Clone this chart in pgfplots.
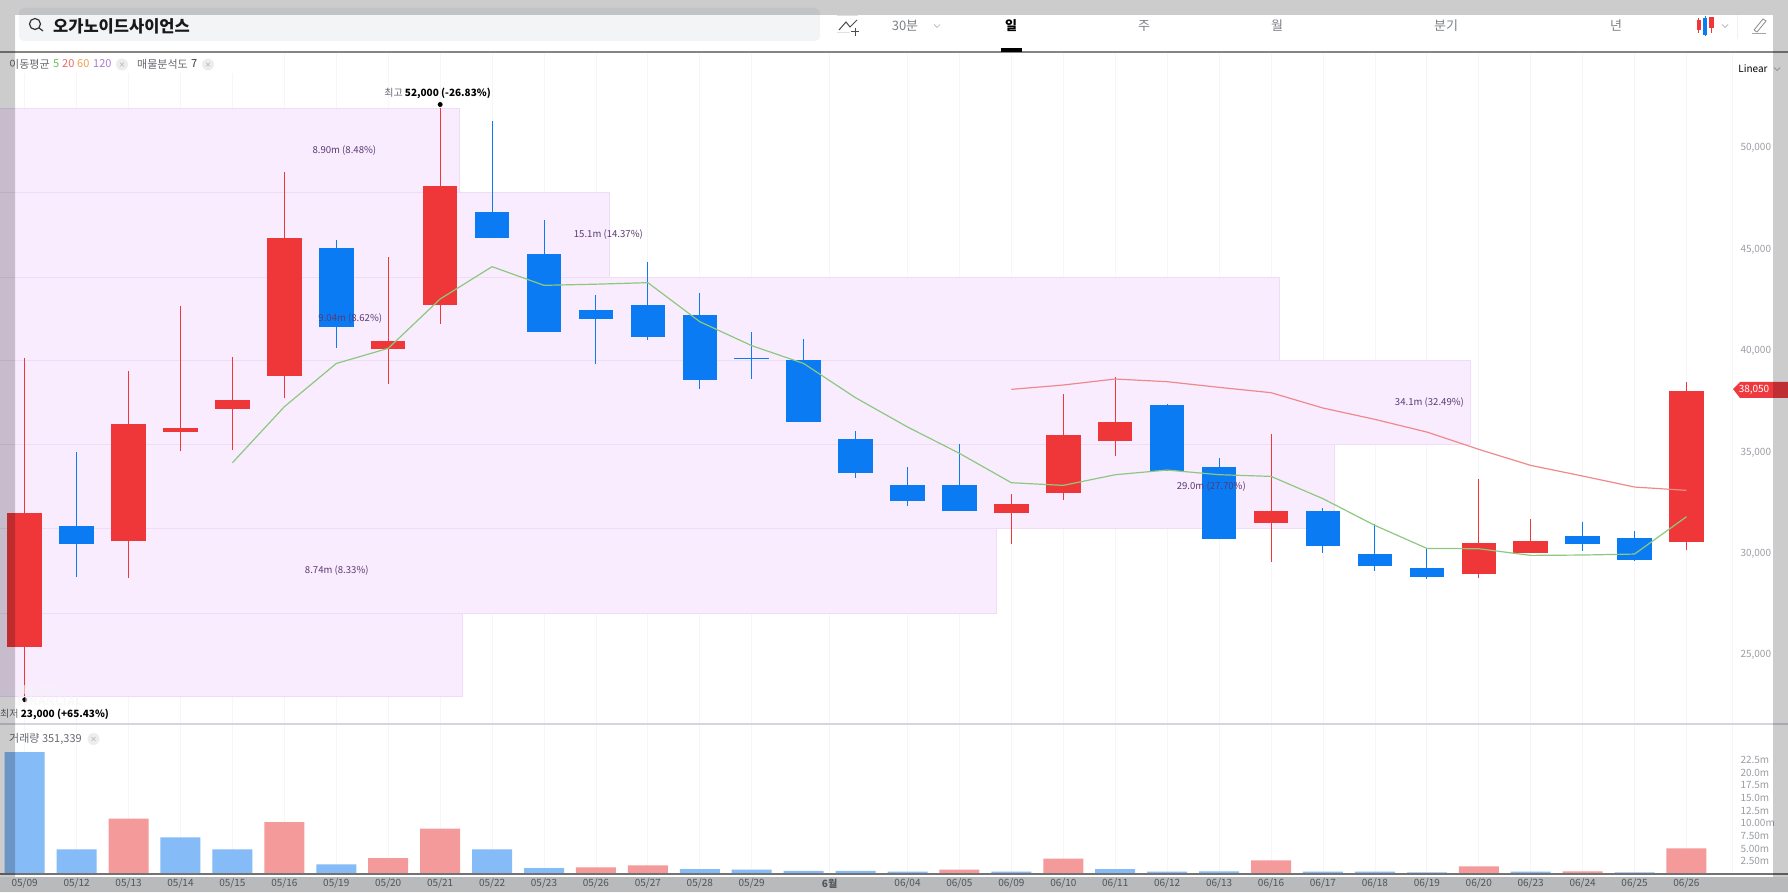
\documentclass[border=0pt]{standalone}
\usepackage{pgfplots}
\pgfplotsset{compat=1.18}
\usepackage{fontspec}
\setmainfont{Noto Sans CJK KR}
\definecolor{cred}{HTML}{EF3739}
\definecolor{cblue}{HTML}{0A7BF2}
\definecolor{vred}{HTML}{F49A9A}
\definecolor{vblue}{HTML}{85BBF6}
\definecolor{bandf}{HTML}{F9ECFE}
\definecolor{bandl}{HTML}{EEDDF4}
\definecolor{maG}{HTML}{8CC97E}
\definecolor{maR}{HTML}{EE8A8A}
\definecolor{gridc}{HTML}{F5F6F8}
\definecolor{labc}{HTML}{5B3A72}
\definecolor{tickc}{HTML}{9A9EA3}
\definecolor{stripc}{HTML}{E6E9EC}
\definecolor{searchc}{HTML}{F3F4F6}
\definecolor{txtc}{HTML}{666A70}
\definecolor{tabc}{HTML}{7C8086}
\definecolor{sepc}{HTML}{D4D5DE}
\definecolor{leggreen}{HTML}{6CBF5A}
\definecolor{legred}{HTML}{EE6A6A}
\definecolor{legorange}{HTML}{F0A050}
\definecolor{legpurple}{HTML}{A97CD8}
\definecolor{tagred}{HTML}{EE3A3F}
\newcommand{\fs}[1]{\fontsize{#1}{#1}\selectfont}
\tikzset{
  vlab/.style={labc,font=\fs{9.6}},
  tab/.style={tabc,font=\fs{13},inner sep=0pt},
  leg/.style={font=\fs{11},inner sep=0pt,anchor=west},
}
\newcommand{\chev}[2]{\draw[gray!60,line width=.7pt] (#1-3,892-#2+1.5) -- (#1,892-#2-1.5) -- (#1+3,892-#2+1.5);}
\newcommand{\xcirc}[2]{\fill[black!7] (#1,892-#2) circle (6);
  \draw[black!28,line width=.6pt] (#1-2,892-#2-2) -- (#1+2,892-#2+2) (#1-2,892-#2+2) -- (#1+2,892-#2-2);}
\pgfplotsset{
  base/.style={
    scale only axis, width=1732pt, xmin=-0.4756, xmax=32.877,
    xtick={0,1,2,3,4,5,6,7,8,9,10,11,12,13,14,15.5,17,18,19,20,21,22,23,24,25,26,27,28,29,30,31,32},
    xmajorgrids, major grid style={gridc,line width=0.8pt}, major tick length=0pt,
    axis line style={draw=none}, unbounded coords=jump,
    yticklabel pos=right,
    yticklabel style={anchor=west,text=tickc,font=\fs{10},xshift=5pt},
  },
  band/.style={fill=bandf,draw=bandl,line width=1pt},
  rw/.style={cred,line width=1pt},
  bw/.style={cblue,line width=1pt},
  rb/.style={cred,line width=34.5pt,line cap=butt},
  bb/.style={cblue,line width=34.5pt,line cap=butt},
  vb/.style={ybar,bar width=40pt,bar shift=0pt,draw=none},
}
\begin{document}
\begin{tikzpicture}[x=1pt,y=1pt]
\clip (0,0) rectangle (1788,892);
\fill[white] (0,0) rectangle (1788,892);
\fill[stripc] (0,0) rectangle (1788,15);
% ---------- price panel
\begin{axis}[base, at={(0pt,168pt)}, anchor=south west, height=672pt,
  ymin=21613, ymax=54749,
  xticklabels={},
  scaled y ticks=false,
  ytick={25000,30000,35000,40000,45000,50000},
  yticklabels={{25,000},{30,000},{35,000},{40,000},{45,000},{50,000}},
]
\addplot[band] coordinates {(-1,47797)(8.38,47797)(8.38,51966)(-1,51966)(-1,47797)};
\addplot[band] coordinates {(-1,43637)(11.27,43637)(11.27,47797)(-1,47797)(-1,43637)};
\addplot[band] coordinates {(-1,39543)(24.16,39543)(24.16,43637)(-1,43637)(-1,39543)};
\addplot[band] coordinates {(-1,35401)(27.85,35401)(27.85,39543)(-1,39543)(-1,35401)};
\addplot[band] coordinates {(-1,31242)(25.23,31242)(25.23,35401)(-1,35401)(-1,31242)};
\addplot[band] coordinates {(-1,27083)(18.71,27083)(18.71,31242)(-1,31242)(-1,27083)};
\addplot[band] coordinates {(-1,22956)(8.43,22956)(8.43,27083)(-1,27083)(-1,22956)};
% wicks
\addplot[rw] coordinates {
(0,23000)(0,39640)(0,nan)
(2,28822)(2,39016)(2,nan)
(3,35052)(3,42221)(3,nan)
(4,35120)(4,39706)(4,nan)
(5,37667)(5,48831)(5,nan)
(7,38356)(7,44636)(7,nan)
(8,41350)(8,52000)(8,nan)
(19,30484)(19,32950)(19,nan)
(20,32649)(20,37881)(20,nan)
(21,34821)(21,38734)(21,nan)
(24,29610)(24,35906)(24,nan)
(28,28805)(28,33688)(28,nan)
(29,30057)(29,31717)(29,nan)
(32,30210)(32,38453)};
\addplot[bw] coordinates {
(1,28856)(1,35019)(1,nan)
(6,40147)(6,45475)(6,nan)
(9,45560)(9,51360)(9,nan)
(10,40938)(10,46475)(10,nan)
(11,39375)(11,42744)(11,nan)
(12,40526)(12,44389)(12,nan)
(13,38140)(13,42875)(13,nan)
(14,38634)(14,40937)(14,nan)
(15,36513)(15,40576)(15,nan)
(16,33750)(16,36056)(16,nan)
(17,32375)(17,34293)(17,nan)
(18,32093)(18,35411)(18,nan)
(22,34100)(22,37400)(22,nan)
(23,30715)(23,34724)(23,nan)
(25,30057)(25,32261)(25,nan)
(26,29148)(26,31465)(26,nan)
(27,28770)(27,30287)(27,nan)
(30,30138)(30,31569)(30,nan)
(31,29646)(31,31107)};
% bodies
\addplot[rb] coordinates {
(0,25400)(0,32000)(0,nan)
(2,30615)(2,36385)(2,nan)
(3,36007)(3,36188)(3,nan)
(4,37157)(4,37585)(4,nan)
(5,38785)(5,45560)(5,nan)
(7,40100)(7,40493)(7,nan)
(8,42284)(8,48138)(8,nan)
(19,31997)(19,32456)(19,nan)
(20,33012)(20,35859)(20,nan)
(21,35560)(21,36513)(21,nan)
(24,31535)(24,32093)(24,nan)
(28,28988)(28,30518)(28,nan)
(29,30057)(29,30615)(29,nan)
(32,30584)(32,38050)};
\addplot[bb] coordinates {
(1,30484)(1,31355)(1,nan)
(6,41168)(6,45098)(6,nan)
(9,45560)(9,46857)(9,nan)
(10,40938)(10,44767)(10,nan)
(11,41580)(11,42006)(11,nan)
(12,40706)(12,42267)(12,nan)
(13,38600)(13,41776)(13,nan)
(14,39590)(14,39650)(14,nan)
(15,36513)(15,39557)(15,nan)
(16,33980)(16,35673)(16,nan)
(17,32604)(17,33379)(17,nan)
(18,32093)(18,33379)(18,nan)
(22,34100)(22,37336)(22,nan)
(23,30715)(23,34293)(23,nan)
(25,30382)(25,32093)(25,nan)
(26,29412)(26,30010)(26,nan)
(27,28856)(27,29314)(27,nan)
(30,30484)(30,30877)(30,nan)
(31,29692)(31,30780)};
% MA5
\addplot[maG,line width=1.2pt] coordinates {
(4,34495)(5,37259)(6,39390)(7,40136)(8,42569)(9,44164)(10,43243)(11,43300)(12,43375)
(13,41451)(14,40268)(15,39390)(16,37700)(17,36259)(18,34958)(19,33510)(20,33379)(21,33905)
(22,34135)(23,33905)(24,33823)(25,32722)(26,31406)(27,30272)(28,30255)(29,29927)(30,29944)
(31,29993)(32,31834)};
% MA20
\addplot[maR,line width=1.2pt] coordinates {
(19,38114)(20,38328)(21,38624)(22,38492)(23,38212)(24,37950)(25,37193)(26,36634)(27,36009)
(28,35155)(29,34365)(30,33840)(31,33297)(32,33133)};
% extremes
\addplot[only marks,mark=*,mark size=2.2pt,mark options={black,fill=black}] coordinates {(8,52160)(0,22810)};
\node[font=\fs{10},anchor=center] at (axis cs:7.95,52720) {{\color{txtc}최고} \textcolor{black}{\bfseries 52,000 (-26.83\%)}};
\node[font=\fs{10},anchor=west,inner sep=0pt] at (axis cs:-0.4756,22100) {{\color{txtc}최저} \textcolor{black}{\bfseries 23,000 (+65.43\%)}};
\node[vlab] at (axis cs:6.156,49882) {8.90m (8.48\%)};
\node[vlab] at (axis cs:11.24,45725) {15.1m (14.37\%)};
\node[vlab] at (axis cs:6.27,41617) {9.04m (8.62\%)};
\node[vlab] at (axis cs:27.05,37475) {34.1m (32.49\%)};
\node[vlab] at (axis cs:22.85,33333) {29.0m (27.70\%)};
\node[vlab] at (axis cs:6.01,29190) {8.74m (8.33\%)};
\end{axis}
% ---------- volume panel
\begin{axis}[base, at={(0pt,18.3pt)}, anchor=south west, height=148.7pt,
  ymin=0, ymax=29.43,
  xticklabels={05/09,05/12,05/13,05/14,05/15,05/16,05/19,05/20,05/21,05/22,05/23,05/26,05/27,05/28,05/29,\textbf{6월},06/04,06/05,06/09,06/10,06/11,06/12,06/13,06/16,06/17,06/18,06/19,06/20,06/23,06/24,06/25,06/26},
  xticklabel style={text=txtc,font=\fs{10},yshift=-1.5pt},
  ytick={2.5,5,7.5,10,12.5,15,17.5,20,22.5},
  yticklabels={2.50m,5.00m,7.50m,10.00m,12.5m,15.0m,17.5m,20.0m,22.5m},
]
\addplot[vb,fill=vblue] coordinates {(0,24.08)(1,4.8)(3,7.2)(4,4.8)(6,1.85)(9,4.8)(10,1.1)(13,0.9)(14,0.8)(15,0.55)(16,0.55)(17,0.4)(19,0.4)(21,0.9)(22,0.4)(23,0.45)(25,0.4)(26,0.4)(27,0.25)(29,0.4)(31,0.25)};
\addplot[vb,fill=vred] coordinates {(2,10.9)(5,10.2)(7,3.1)(8,8.9)(11,1.25)(12,1.65)(18,0.8)(20,3.0)(24,2.65)(28,1.45)(30,0.45)(32,5.0)};
\end{axis}
% ---------- separators
\fill[white] (15,819) rectangle (245,839.5);
\draw[gridc,line width=1pt] (1732,18) -- (1732,840);
\draw[black!48,line width=1.6pt] (0,840) -- (1788,840);
\draw[sepc,line width=1.2pt] (0,168) -- (1788,168);
\draw[black!55,line width=2pt] (0,18) -- (1788,18);
% ---------- header
\fill[searchc,rounded corners=5pt] (19,884) rectangle (820,851);
\draw[black!80,line width=1.2pt] (35,868) circle (5.5) (39,864) -- (43,861);
\node[anchor=west,inner sep=0pt,font=\fs{16.5}\bfseries,text=black!90] at (53,866) {오가노이드사이언스};
% line icon
\draw[black!12,line width=1pt] (837,876) -- (858,876) (837,859) -- (850,859);
\draw[black!70,line width=1pt] (839,862) -- (846,870) -- (850,865) -- (857,872);
\draw[black!70,line width=1pt] (851,860) -- (859,860) (855,856) -- (855,864);
\node[tab] at (905,866) {30분};
\chev{937}{26}
\node[font=\fs{13}\bfseries,inner sep=0pt,text=black] at (1011,866) {일};
\fill[black] (1000.5,840) rectangle (1022,844);
\node[tab] at (1144,866) {주};
\node[tab] at (1277,866) {월};
\node[tab] at (1446,866) {분기};
\node[tab] at (1616,866) {년};
% candle icon
\draw[cred,line width=.8pt] (1698.5,859) -- (1698.5,874) (1711.5,859) -- (1711.5,875);
\fill[cred] (1696.7,862) rectangle (1700.7,872);
\fill[cred] (1709.3,864) rectangle (1714,875);
\draw[cblue,line width=.8pt] (1705,856) -- (1705,876);
\fill[cblue] (1703,857) rectangle (1707,874);
\chev{1725}{26}
\draw[black!35,line width=.7pt] (1752,859) -- (1766,859);
\draw[black!45,line width=.8pt] (1754,862) -- (1763,873) -- (1766,871) -- (1757,860) -- (1754,862);
\draw[black!6,line width=.6pt] (1737,853) -- (1737,877);
% legend
\node[leg,text=txtc] at (9,828) {이동평균};
\node[leg,text=leggreen] at (53,828) {5};
\node[leg,text=legred] at (62,828) {20};
\node[leg,text=legorange] at (77,828) {60};
\node[leg,text=legpurple] at (93,828) {120};
\xcirc{122}{64.5}
\node[leg,text=txtc] at (137,828) {매물분석도};
\node[leg,text=black!80] at (191,828) {7};
\xcirc{208}{64.5}
\node[font=\fs{10},inner sep=0pt,text=black] at (1753,823.5) {Linear};
\chev{1777}{69}
% volume legend
\node[leg,text=txtc] at (9,153) {거래량 351,339};
\xcirc{93.5}{739}
% watermark
\node[anchor=west,inner sep=0pt,font=\fs{12}\bfseries,text=black!4,opacity=.6] at (17,202) {NAVER};
\node[anchor=west,inner sep=0pt,font=\fs{12}\bfseries,text=black!4,opacity=.6] at (17,191) {FINANCIAL};
% current price tag
\fill[tagred] (1733,503) -- (1740,510) -- (1788,510) -- (1788,494) -- (1740,494) -- cycle;
\node[font=\fs{10},text=white,inner sep=0pt] at (1754,502) {38,050};
% ---------- grey overlay of the screenshot
\fill[black,opacity=.2] (0,0) rectangle (1788,15)
  (0,877) rectangle (1788,892) (0,15) rectangle (15,877) (1773,15) rectangle (1788,877);
\end{tikzpicture}
\end{document}
